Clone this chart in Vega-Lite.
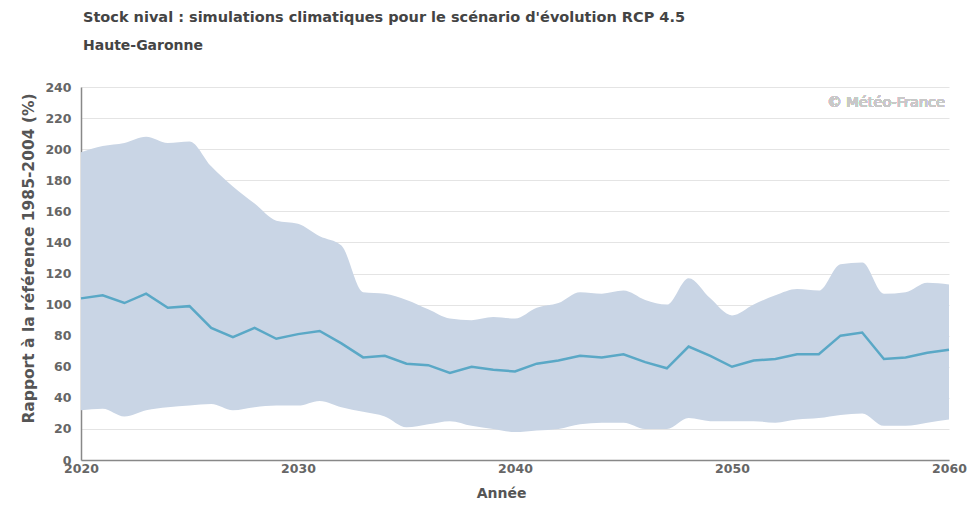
{
  "$schema": "https://vega.github.io/schema/vega-lite/v6.json",
  "width": 868,
  "height": 373,
  "autosize": {"type": "none"},
  "padding": {"left": 81, "top": 87, "right": 24, "bottom": 48},
  "background": "white",
  "title": {
    "text": "Stock nival : simulations climatiques pour le scénario d'évolution RCP 4.5",
    "subtitle": "Haute-Garonne",
    "anchor": "start",
    "frame": "group",
    "font": "DejaVu Sans",
    "fontSize": 14.5,
    "fontWeight": "bold",
    "color": "#444444",
    "subtitleFont": "DejaVu Sans",
    "subtitleFontSize": 14,
    "subtitleFontWeight": "bold",
    "subtitleColor": "#444444",
    "subtitlePadding": 14,
    "offset": 27,
    "dx": 2
  },
  "config": {
    "view": {"stroke": null},
    "axis": {
      "labelFont": "DejaVu Sans",
      "labelFontWeight": "bold",
      "labelFontSize": 12.5,
      "labelColor": "#666666",
      "titleFont": "DejaVu Sans",
      "titleFontWeight": "bold",
      "titleColor": "#555555",
      "domainColor": "#888888",
      "domainWidth": 1.5,
      "gridColor": "#e4e4e4",
      "ticks": false
    },
    "axisX": {"titleFontSize": 14, "titleX": 420, "titlePadding": 12},
    "axisY": {"titleFontSize": 15.5, "titleY": 171, "titlePadding": 8}
  },
  "data": {
    "values": [
      {"year": 2020, "low": 32, "med": 104, "high": 198},
      {"year": 2021, "low": 33, "med": 106, "high": 202},
      {"year": 2022, "low": 28, "med": 101, "high": 204},
      {"year": 2023, "low": 32, "med": 107, "high": 208},
      {"year": 2024, "low": 34, "med": 98, "high": 204},
      {"year": 2025, "low": 35, "med": 99, "high": 205},
      {"year": 2026, "low": 36, "med": 85, "high": 189},
      {"year": 2027, "low": 32, "med": 79, "high": 176},
      {"year": 2028, "low": 34, "med": 85, "high": 165},
      {"year": 2029, "low": 35, "med": 78, "high": 154},
      {"year": 2030, "low": 35, "med": 81, "high": 152},
      {"year": 2031, "low": 38, "med": 83, "high": 144},
      {"year": 2032, "low": 34, "med": 75, "high": 138},
      {"year": 2033, "low": 31, "med": 66, "high": 108},
      {"year": 2034, "low": 28, "med": 67, "high": 107},
      {"year": 2035, "low": 21, "med": 62, "high": 103},
      {"year": 2036, "low": 23, "med": 61, "high": 97},
      {"year": 2037, "low": 25, "med": 56, "high": 91},
      {"year": 2038, "low": 22, "med": 60, "high": 90},
      {"year": 2039, "low": 20, "med": 58, "high": 92},
      {"year": 2040, "low": 18, "med": 57, "high": 91},
      {"year": 2041, "low": 19, "med": 62, "high": 98},
      {"year": 2042, "low": 20, "med": 64, "high": 101},
      {"year": 2043, "low": 23, "med": 67, "high": 108},
      {"year": 2044, "low": 24, "med": 66, "high": 107},
      {"year": 2045, "low": 24, "med": 68, "high": 109},
      {"year": 2046, "low": 20, "med": 63, "high": 103},
      {"year": 2047, "low": 20, "med": 59, "high": 100},
      {"year": 2048, "low": 27, "med": 73, "high": 117},
      {"year": 2049, "low": 25, "med": 67, "high": 104},
      {"year": 2050, "low": 25, "med": 60, "high": 93},
      {"year": 2051, "low": 25, "med": 64, "high": 100},
      {"year": 2052, "low": 24, "med": 65, "high": 106},
      {"year": 2053, "low": 26, "med": 68, "high": 110},
      {"year": 2054, "low": 27, "med": 68, "high": 109},
      {"year": 2055, "low": 29, "med": 80, "high": 126},
      {"year": 2056, "low": 30, "med": 82, "high": 127},
      {"year": 2057, "low": 22, "med": 65, "high": 107},
      {"year": 2058, "low": 22, "med": 66, "high": 108},
      {"year": 2059, "low": 24, "med": 69, "high": 114},
      {"year": 2060, "low": 26, "med": 71, "high": 113}
    ]
  },
  "layer": [
    {
      "mark": {"type": "area", "color": "#c9d5e5", "interpolate": "monotone"},
      "encoding": {
        "x": {
          "field": "year",
          "type": "quantitative",
          "scale": {"domain": [2020, 2060], "nice": false},
          "axis": {
            "values": [2020, 2030, 2040, 2050, 2060],
            "format": "d",
            "grid": false,
            "title": "Année",
            "labelFlush": false,
            "labelOverlap": false,
            "labelPadding": 2
          }
        },
        "y": {
          "field": "low",
          "type": "quantitative",
          "scale": {"domain": [0, 240], "nice": false},
          "axis": {
            "values": [0, 20, 40, 60, 80, 100, 120, 140, 160, 180, 200, 220, 240],
            "labelOverlap": false,
            "title": "Rapport à la référence 1985-2004 (%)",
            "labelPadding": 10
          }
        },
        "y2": {"field": "high"}
      }
    },
    {
      "mark": {"type": "line", "color": "#5aa8c6", "strokeWidth": 2.5},
      "encoding": {
        "x": {
          "field": "year",
          "type": "quantitative",
          "axis": {
            "values": [2020, 2030, 2040, 2050, 2060],
            "format": "d",
            "grid": false,
            "title": "Année",
            "labelFlush": false,
            "labelOverlap": false,
            "labelPadding": 2
          }
        },
        "y": {
          "field": "med",
          "type": "quantitative",
          "axis": {
            "values": [0, 20, 40, 60, 80, 100, 120, 140, 160, 180, 200, 220, 240],
            "labelOverlap": false,
            "title": "Rapport à la référence 1985-2004 (%)",
            "labelPadding": 10
          }
        }
      }
    },
    {
      "mark": {"type": "text", "align": "right", "baseline": "middle", "dx": -4, "font": "DejaVu Sans", "fontSize": 14.5, "color": "#c8c8c8"},
      "encoding": {
        "x": {
          "datum": 2060,
          "type": "quantitative",
          "axis": {
            "values": [2020, 2030, 2040, 2050, 2060],
            "format": "d",
            "grid": false,
            "title": "Année",
            "labelFlush": false,
            "labelOverlap": false,
            "labelPadding": 2
          }
        },
        "y": {
          "datum": 230,
          "type": "quantitative",
          "axis": {
            "values": [0, 20, 40, 60, 80, 100, 120, 140, 160, 180, 200, 220, 240],
            "labelOverlap": false,
            "title": "Rapport à la référence 1985-2004 (%)",
            "labelPadding": 10
          }
        },
        "text": {"value": "© Météo-France"}
      }
    }
  ]
}
